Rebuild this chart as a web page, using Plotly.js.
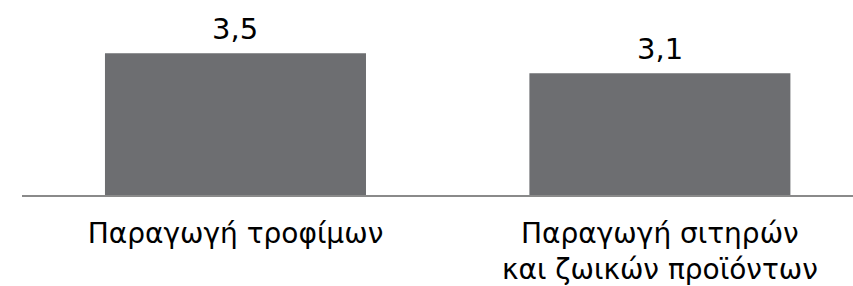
<!DOCTYPE html>
<html>
<head>
<meta charset="utf-8">
<script src="https://cdn.plot.ly/plotly-3.0.1.min.js"></script>
<style>html,body{margin:0;padding:0;background:#fff;}#chart{width:853px;height:286px;}</style>
</head>
<body>
<div id="chart"></div>
<script>
const categories = ["Παραγωγή τροφίμων", "Παραγωγή σιτηρών<br>και ζωικών προϊόντων"];
const values = [3.5, 3.1];
const valueLabels = ["3,5", "3,1"];

const trace = {
  type: 'bar',
  x: [0, 1],
  y: values,
  marker: {color: '#6d6e71'},
  hoverinfo: 'none'
};

const annotations = values.map((v, i) => ({
  x: i, y: v, xref: 'x', yref: 'y',
  text: valueLabels[i],
  showarrow: false,
  yanchor: 'bottom',
  yshift: 5,
  font: {family: 'DejaVu Sans', size: 29, color: '#000'}
}));

const layout = {
  width: 853, height: 286,
  margin: {l: 22, r: 0, t: 0, b: 91},
  paper_bgcolor: '#fff', plot_bgcolor: '#fff',
  bargap: 0.385,
  showlegend: false,
  font: {family: 'DejaVu Sans', color: '#000'},
  annotations: annotations,
  xaxis: {
    range: [-0.503, 1.455],
    tickvals: [0, 1],
    ticktext: categories,
    tickfont: {family: 'DejaVu Sans', size: 28, color: '#000'},
    ticklabelstandoff: 12,
    showline: true, linecolor: '#8a8a8a', linewidth: 2,
    ticks: '', showgrid: false, zeroline: false, fixedrange: true
  },
  yaxis: {
    range: [0.666, 4.566],
    visible: false, showgrid: false, zeroline: false, fixedrange: true
  }
};

Plotly.newPlot('chart', [trace], layout, {displayModeBar: false, staticPlot: true});
</script>
</body>
</html>
